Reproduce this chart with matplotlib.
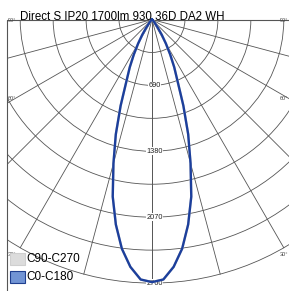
import numpy as np
import matplotlib
matplotlib.use('Agg')
import matplotlib.pyplot as plt
from matplotlib.patches import Rectangle, Circle

plt.rcParams.update({
    'font.family': ['Liberation Sans', 'DejaVu Sans'],
})

titulo = 'Direct S IP20 1700lm 930 36D DA2 WH'
angulos = [0, 2.5, 5, 7.5, 10, 12.5, 15, 17.5, 20, 22.5, 25, 27.5, 30, 32.5, 35, 40, 45, 50, 60, 70, 80, 90]
c0_c180 = [2750, 2725, 2600, 2420, 2180, 1900, 1560, 1260, 960, 700, 550, 410, 290, 190, 110, 40, 15, 5, 0, 0, 0, 0]
c90_c270 = [2750, 2725, 2600, 2420, 2180, 1900, 1560, 1260, 960, 700, 550, 410, 290, 190, 110, 40, 15, 5, 0, 0, 0, 0]
anillos = [345, 690, 1035, 1380, 1725, 2070, 2415, 2760]
anillos_etiqueta = [690, 1380, 2070, 2760]
radiales = [0, 15, 30, 45, 60, 75, 90]
radiales_etiqueta = [90, 60, 30]

# escala en pixeles por cd y centro del diagrama
s = 0.0955
cx, cy = 152, 19.5
W, H = 289, 291

fig = plt.figure(figsize=(W / 100, H / 100), dpi=100)
ax = fig.add_axes([0, 0, 1, 1])
ax.set_xlim(-cx / s, (W - cx) / s)
ax.set_ylim(-(H - cy) / s, cy / s)
ax.axis('off')

def px(x, y):
    # pixel de la imagen -> coordenadas de datos
    return (x - cx) / s, -(y - cy) / s

x0, _ = px(7, 0)
caja = Rectangle((x0, -4000), -2 * x0, 4000, fill=False, transform=ax.transData)
ax.add_patch(Rectangle((x0, -4000), -2 * x0, 4000, fill=False, ec='#555555', lw=0.8, zorder=1))

gris = '#555555'
for r in anillos:
    c = Circle((0, 0), r, fill=False, ec=gris, lw=0.6, zorder=1)
    ax.add_patch(c)
    c.set_clip_path(caja)

rmax = anillos[-1]
for a in radiales:
    t = np.radians(a)
    for sg in (-1, 1):
        l, = ax.plot([0, sg * rmax * np.sin(t)], [0, -rmax * np.cos(t)], c=gris, lw=0.6, zorder=1)
        l.set_clip_path(caja)

th = np.radians(np.array(angulos))
I90 = np.array(c90_c270)
I0 = np.array(c0_c180)
th_full = np.concatenate([-th[::-1], th[1:]])
for I, col in [(I90, '#d0d0d0'), (I0, '#1c3f9c')]:
    I_full = np.concatenate([I[::-1], I[1:]])
    ax.plot(I_full * np.sin(th_full), -I_full * np.cos(th_full), c=col, lw=1.7, zorder=3,
            solid_joinstyle='round')

for r in anillos_etiqueta:
    ax.text(25, -r, str(r), fontsize=5.3, color='#222222', ha='center', va='center', zorder=2,
            bbox=dict(fc='white', ec='none', pad=0.2))

for a, y in zip(radiales_etiqueta, [21, 98, 254]):
    ax.text(*px(8, y), f'{a}°', fontsize=4, color='#444444', ha='left', va='center', zorder=2)
    ax.text(*px(288.5, y), f'{a}°', fontsize=4, color='#444444', ha='right', va='center', zorder=2)

ax.text(*px(20, 19.5), titulo, fontsize=8.3, color='black', ha='left', va='baseline', zorder=4)

# leyenda
for y, fc, ec, lab in [(253, '#dcdcdc', '#cfcfcf', 'C90-C270'), (271, '#7194d4', '#1f3f8f', 'C0-C180')]:
    xa, ya = px(10, y + 12)
    ax.add_patch(Rectangle((xa, ya), 14.5 / s, 12 / s, fc=fc, ec=ec, lw=0.8, zorder=4))
    ax.text(*px(26, y + 6.5), lab, fontsize=8.5, color='black', ha='left', va='center', zorder=4)

plt.savefig('out.png', dpi=100)
